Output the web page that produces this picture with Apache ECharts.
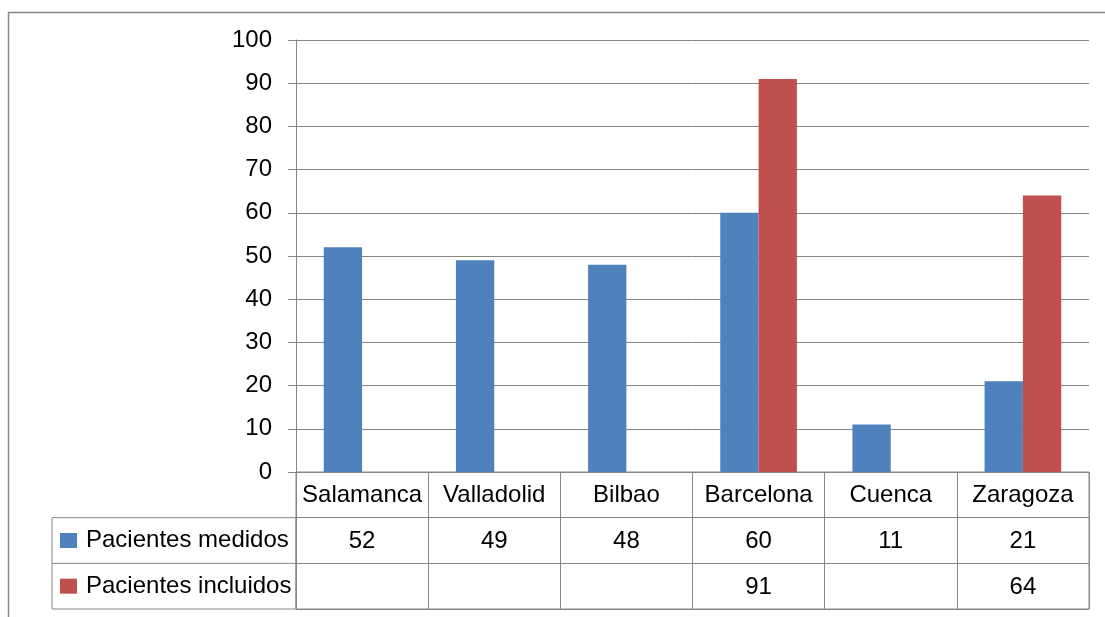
<!DOCTYPE html>
<html>
<head>
<meta charset="utf-8">
<script src="https://cdn.jsdelivr.net/npm/echarts@6/dist/echarts.min.js"></script>
<style>
html,body{margin:0;padding:0;background:#fff;}
#c{width:1105px;height:617px;}
</style>
</head>
<body>
<div id="c"></div>
<script>
const categories = ['Salamanca', 'Valladolid', 'Bilbao', 'Barcelona', 'Cuenca', 'Zaragoza'];
const seriesNames = ['Pacientes medidos', 'Pacientes incluidos'];
const medidos = [52, 49, 48, 60, 11, 21];
const incluidos = [null, null, null, 91, null, 64];
const yMin = 0, yMax = 100, yInterval = 10;

const colors = ['#4F81BD', '#C0504D'];
const gridColor = '#868686';
const font = '"Liberation Sans", Arial, sans-serif';
const fs = 24;

// layout
const plotLeft = 296, plotRight = 1089, plotTop = 40, plotBottom = 472, tableBottom = 609, legendLeft = 52;
const rowH = (tableBottom - plotBottom) / 3;

// table cells built from the data arrays
const tableCells = [];
categories.forEach((c, i) => {
  tableCells.push({col: i, row: 0, label: c});
  tableCells.push({col: i, row: 1, label: medidos[i] == null ? '' : String(medidos[i])});
  tableCells.push({col: i, row: 2, label: incluidos[i] == null ? '' : String(incluidos[i])});
});

const chart = echarts.init(document.getElementById('c'), null, {renderer: 'canvas'});
chart.setOption({
  animation: false,
  backgroundColor: '#fff',
  textStyle: {fontFamily: font},
  grid: [
    {left: plotLeft, right: 1105 - plotRight, top: plotTop, bottom: 617 - plotBottom, containLabel: false},
    {left: plotLeft, right: 1105 - plotRight, top: plotBottom, bottom: 617 - tableBottom, containLabel: false,
     show: true, borderColor: gridColor, borderWidth: 1, backgroundColor: 'transparent'}
  ],
  xAxis: [
    {gridIndex: 0, type: 'category', data: categories, boundaryGap: true,
     axisLine: {show: true, lineStyle: {color: gridColor}}, axisTick: {show: false}, axisLabel: {show: false}, splitLine: {show: false}},
    {gridIndex: 1, type: 'category', data: categories, boundaryGap: true,
     axisLine: {show: false}, axisTick: {show: false}, axisLabel: {show: false},
     splitLine: {show: true, interval: 0, lineStyle: {color: gridColor, width: 1}}}
  ],
  yAxis: [
    {gridIndex: 0, type: 'value', min: yMin, max: yMax, interval: yInterval,
     axisLine: {show: true, lineStyle: {color: gridColor}},
     axisTick: {show: true, length: 8, lineStyle: {color: gridColor}},
     axisLabel: {color: '#000', fontSize: fs, fontFamily: font, margin: 24},
     splitLine: {show: true, lineStyle: {color: gridColor, width: 1}}},
    {gridIndex: 1, type: 'category', inverse: true, data: [''].concat(seriesNames),
     axisLine: {show: false}, axisTick: {show: false},
     splitLine: {show: true, interval: 0, lineStyle: {color: gridColor, width: 1}},
     axisLabel: {
       show: true, interval: 0, align: 'left', margin: plotLeft - 60,
       formatter: (v, idx) => idx === 0 ? '' : '{sq' + idx + '|}{t|' + v + '}',
       rich: {
         sq1: {width: 17, height: 15, backgroundColor: colors[0]},
         sq2: {width: 17, height: 15, backgroundColor: colors[1]},
         t: {fontSize: fs, fontFamily: font, color: '#000', padding: [0, 0, 0, 9]}
       }
     }}
  ],
  series: [
    {name: seriesNames[0], type: 'bar', xAxisIndex: 0, yAxisIndex: 0, data: medidos,
     itemStyle: {color: colors[0]}, barGap: '0%', barCategoryGap: '42%'},
    {name: seriesNames[1], type: 'bar', xAxisIndex: 0, yAxisIndex: 0, data: incluidos,
     itemStyle: {color: colors[1]}, barGap: '0%', barCategoryGap: '42%'},
    {type: 'custom', xAxisIndex: 1, yAxisIndex: 1, silent: true,
     data: tableCells.map(c => [c.col, c.row]),
     renderItem: (params, api) => {
       const p = api.coord([api.value(0), api.value(1)]);
       return {type: 'text', x: p[0], y: p[1] + 1,
         style: {text: tableCells[params.dataIndex].label, fill: '#000',
                 font: fs + 'px ' + font, align: 'center', verticalAlign: 'middle'}};
     }}
  ],
  graphic: [
    {type: 'rect', silent: true, shape: {x: 8.5, y: 12.5, width: 1300, height: 800},
     style: {fill: 'none', stroke: gridColor, lineWidth: 1.5}},
    {type: 'rect', silent: true, shape: {x: legendLeft, y: plotBottom + rowH, width: plotLeft - legendLeft, height: 2 * rowH},
     style: {fill: 'none', stroke: gridColor, lineWidth: 1}},
    {type: 'line', silent: true, shape: {x1: legendLeft, y1: plotBottom + 2 * rowH, x2: plotLeft, y2: plotBottom + 2 * rowH},
     style: {stroke: gridColor, lineWidth: 1}}
  ]
});
</script>
</body>
</html>
